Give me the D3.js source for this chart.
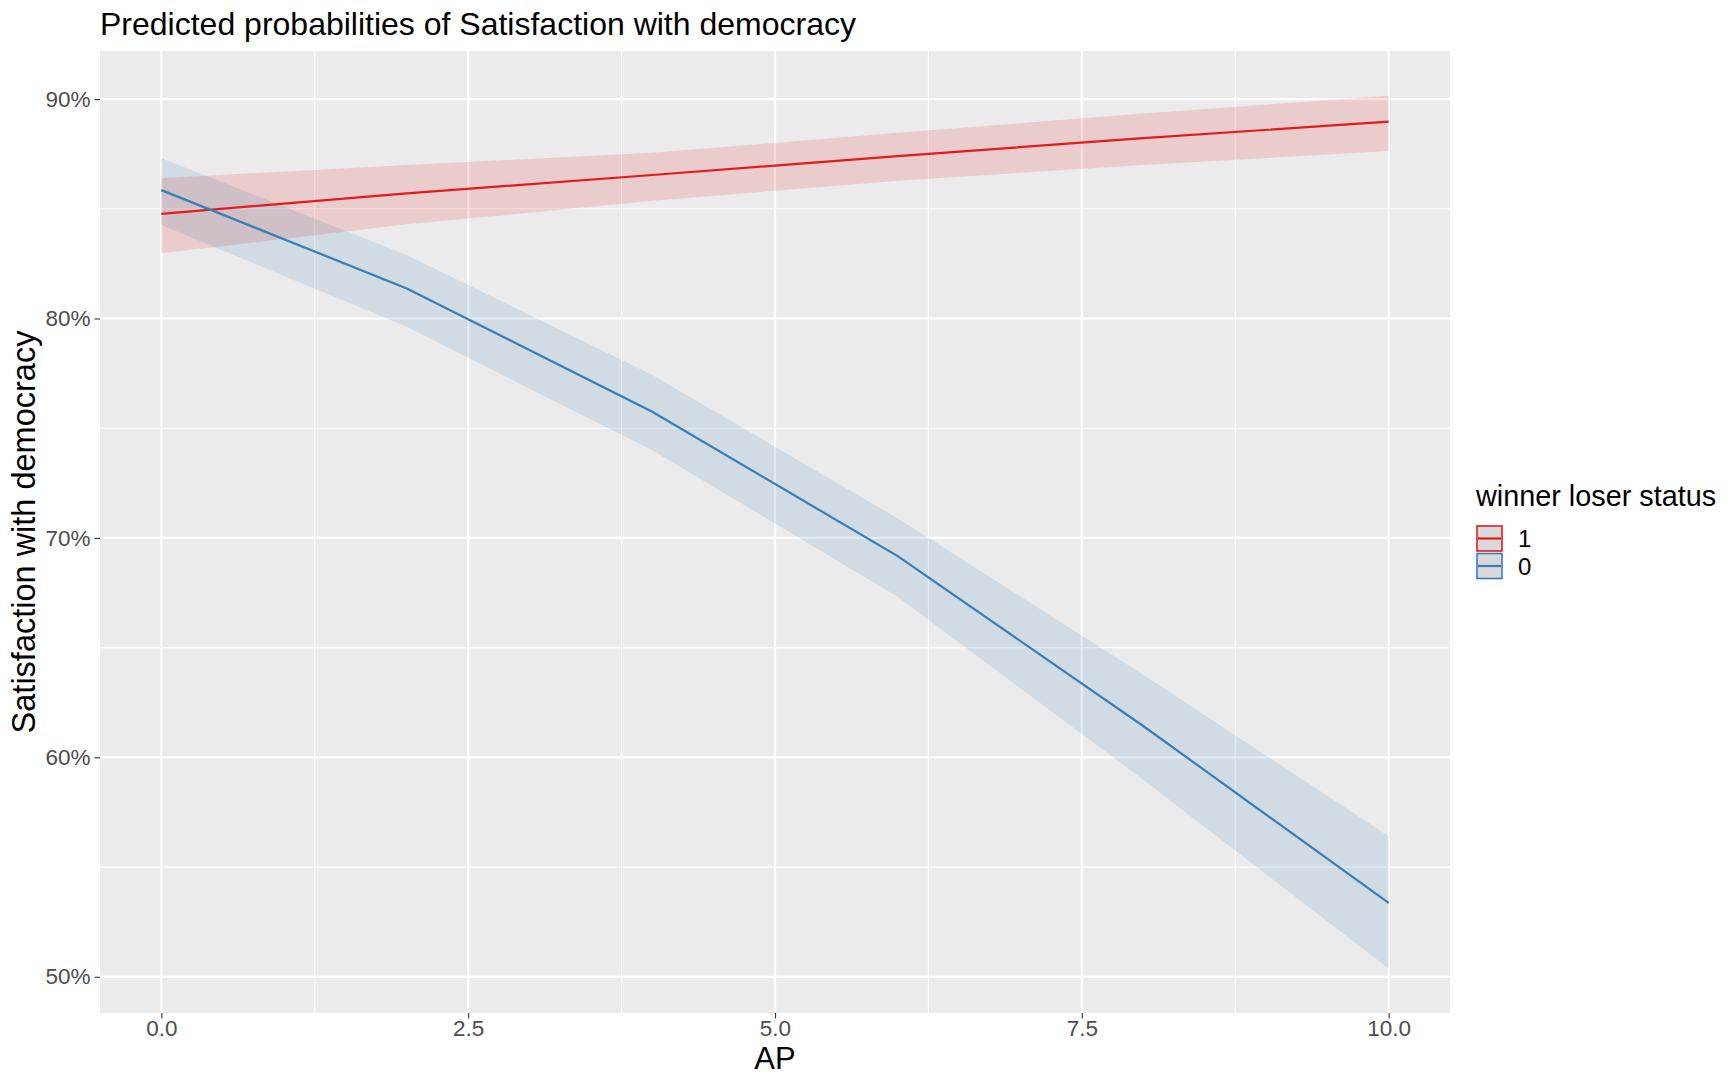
<!DOCTYPE html>
<html>
<head>
<meta charset="utf-8">
<script src="https://cdn.jsdelivr.net/npm/d3@7"></script>
<style>
  html, body { margin: 0; padding: 0; background: #ffffff; }
  svg { display: block; }
  text { font-family: "Liberation Sans", Arial, Helvetica, sans-serif; }
</style>
</head>
<body>
<svg id="chart" width="1734" height="1076"></svg>
<script>
// ---- data ----
const apValues = [0, 2, 4, 6, 8, 10];
const groups = ["1", "0"];
const pred1 = [0.8477, 0.8570, 0.8654, 0.8740, 0.8822, 0.8897];
const low1  = [0.8297, 0.8429, 0.8536, 0.8628, 0.8700, 0.8763];
const high1 = [0.8639, 0.8700, 0.8755, 0.8846, 0.8934, 0.9015];
const pred0 = [0.8585, 0.8137, 0.7575, 0.6917, 0.6143, 0.5337];
const low0  = [0.8426, 0.7962, 0.7400, 0.6732, 0.5898, 0.5038];
const high0 = [0.8730, 0.8289, 0.7742, 0.7089, 0.6377, 0.5641];
const xTicks = [0, 2.5, 5, 7.5, 10];
const xTickLabels = ["0.0", "2.5", "5.0", "7.5", "10.0"];
const xMinor = [1.25, 3.75, 6.25, 8.75];
const yTicks = [0.5, 0.6, 0.7, 0.8, 0.9];
const yTickLabels = ["50%", "60%", "70%", "80%", "90%"];
const yMinor = [0.55, 0.65, 0.75, 0.85];
const titleText = "Predicted probabilities of Satisfaction with democracy";
const xTitle = "AP";
const yTitle = "Satisfaction with democracy";
const legendTitle = "winner loser status";

const colors = { "1": "#E41A1C", "0": "#377EB8" };
const series = [
  { key: "1", pred: pred1, low: low1, high: high1 },
  { key: "0", pred: pred0, low: low0, high: high0 }
];

// ---- layout ----
const panel = { left: 100, right: 1450, top: 51, bottom: 1013 };
const svg = d3.select("#chart");

const x = d3.scaleLinear().domain([-0.5, 10.5]).range([panel.left, panel.right]);
const y = d3.scaleLinear().domain([0.4835, 0.9219]).range([panel.bottom, panel.top]);

// panel background
svg.append("rect")
  .attr("x", panel.left).attr("y", panel.top)
  .attr("width", panel.right - panel.left).attr("height", panel.bottom - panel.top)
  .attr("fill", "#EBEBEB");

const grid = svg.append("g");
grid.selectAll(".xminor").data(xMinor).enter().append("line")
  .attr("x1", d => x(d)).attr("x2", d => x(d))
  .attr("y1", panel.top).attr("y2", panel.bottom)
  .attr("stroke", "#ffffff").attr("stroke-width", 1.1);
grid.selectAll(".yminor").data(yMinor).enter().append("line")
  .attr("y1", d => y(d)).attr("y2", d => y(d))
  .attr("x1", panel.left).attr("x2", panel.right)
  .attr("stroke", "#ffffff").attr("stroke-width", 1.1);
grid.selectAll(".xmajor").data(xTicks).enter().append("line")
  .attr("x1", d => x(d)).attr("x2", d => x(d))
  .attr("y1", panel.top).attr("y2", panel.bottom)
  .attr("stroke", "#ffffff").attr("stroke-width", 2.2);
grid.selectAll(".ymajor").data(yTicks).enter().append("line")
  .attr("y1", d => y(d)).attr("y2", d => y(d))
  .attr("x1", panel.left).attr("x2", panel.right)
  .attr("stroke", "#ffffff").attr("stroke-width", 2.2);

// ribbons and lines
const area = d3.area()
  .x(d => x(d.x)).y0(d => y(d.lo)).y1(d => y(d.hi));
const line = d3.line().x(d => x(d.x)).y(d => y(d.p));

series.forEach(s => {
  const pts = apValues.map((v, i) => ({ x: v, p: s.pred[i], lo: s.low[i], hi: s.high[i] }));
  svg.append("path").datum(pts)
    .attr("d", area)
    .attr("fill", colors[s.key]).attr("fill-opacity", 0.15);
});
series.forEach(s => {
  const pts = apValues.map((v, i) => ({ x: v, p: s.pred[i], lo: s.low[i], hi: s.high[i] }));
  svg.append("path").datum(pts)
    .attr("d", line)
    .attr("fill", "none").attr("stroke", colors[s.key]).attr("stroke-width", 2.2);
});

// axes
const xAxis = d3.axisBottom(x).tickValues(xTicks)
  .tickFormat((d, i) => xTickLabels[i]).tickSize(5.5).tickPadding(1.5);
const gx = svg.append("g").attr("transform", `translate(0,${panel.bottom})`).call(xAxis);
gx.select(".domain").remove();
gx.selectAll(".tick line").attr("stroke", "#333333").attr("stroke-width", 1.1);
gx.selectAll(".tick text").attr("fill", "#4D4D4D")
  .style("font-size", "22.5px").style("font-family", "Liberation Sans, Arial, sans-serif");

const yAxis = d3.axisLeft(y).tickValues(yTicks)
  .tickFormat((d, i) => yTickLabels[i]).tickSize(5.5).tickPadding(4);
const gy = svg.append("g").attr("transform", `translate(${panel.left},0)`).call(yAxis);
gy.select(".domain").remove();
gy.selectAll(".tick line").attr("stroke", "#333333").attr("stroke-width", 1.1);
gy.selectAll(".tick text").attr("fill", "#4D4D4D")
  .style("font-size", "22.5px").style("font-family", "Liberation Sans, Arial, sans-serif");

// titles
svg.append("text").attr("x", panel.left).attr("y", 35)
  .attr("fill", "#000000").style("font-size", "32px").text(titleText);

svg.append("text")
  .attr("x", (panel.left + panel.right) / 2).attr("y", 1069)
  .attr("text-anchor", "middle").attr("fill", "#000000")
  .style("font-size", "31px").text(xTitle);

svg.append("text")
  .attr("transform", `translate(35,${(panel.top + panel.bottom) / 2}) rotate(-90)`)
  .attr("text-anchor", "middle").attr("fill", "#000000")
  .style("font-size", "32.5px").text(yTitle);

// legend
const legend = svg.append("g");
legend.append("text").attr("x", 1476).attr("y", 506)
  .attr("fill", "#000000").style("font-size", "28.8px").text(legendTitle);

const keyX = 1477, keyW = 25, keyH = 25, keyTop = 526, keyStep = 27.5;
groups.forEach((g, i) => {
  const ky = keyTop + i * keyStep;
  legend.append("rect").attr("x", keyX).attr("y", ky)
    .attr("width", keyW).attr("height", keyH)
    .attr("fill", "#D9D9D9").attr("stroke", colors[g]).attr("stroke-width", 1.6);
  legend.append("line").attr("x1", keyX + 1).attr("x2", keyX + keyW - 1)
    .attr("y1", ky + keyH / 2).attr("y2", ky + keyH / 2)
    .attr("stroke", colors[g]).attr("stroke-width", 2.2);
  legend.append("text").attr("x", 1518).attr("y", ky + keyH / 2 + 8.5)
    .attr("fill", "#000000").style("font-size", "24px").text(g);
});
</script>
</body>
</html>
